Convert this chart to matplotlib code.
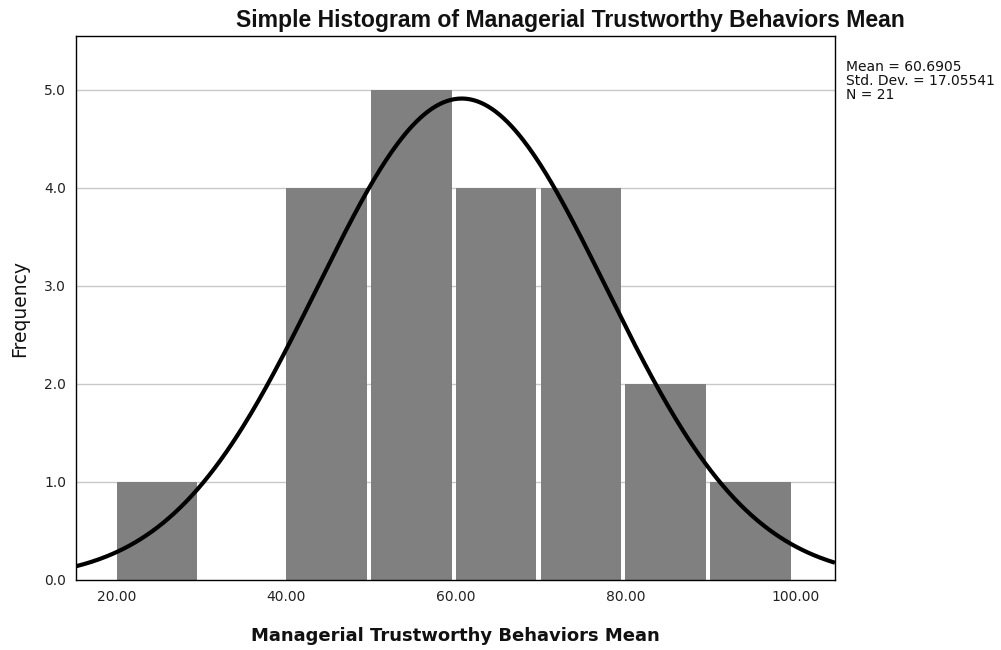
import numpy as np
import matplotlib
matplotlib.use("Agg")
import matplotlib.pyplot as plt

bin_edges = [20, 30, 40, 50, 60, 70, 80, 90, 100]
counts = [1, 0, 4, 5, 4, 4, 2, 1]
mean = 60.6905
std = 17.05541
n = 21
x_ticks = [20, 40, 60, 80, 100]
y_ticks = [0, 1, 2, 3, 4, 5]

fig = plt.figure(figsize=(10.01, 6.5), dpi=100)
ax = fig.add_axes([0.0759, 0.1077, 0.7582, 0.8369])

lefts = bin_edges[:-1]
widths = np.diff(bin_edges)
# bars leave a small white gap at their right side
ax.bar(lefts, counts, width=widths * 0.95, align='edge', color='#808080',
       edgecolor='none', linewidth=0, zorder=2)

ax.set_xlim(15.2, 104.7)
ax.set_ylim(0, 5.55)
for y in y_ticks[1:]:
    ax.axhline(y, color='#c8c8c8', linewidth=1.0, zorder=1)

xs = np.linspace(15.2, 104.7, 400)
binw = bin_edges[1] - bin_edges[0]
ys = n * binw / (std * np.sqrt(2 * np.pi)) * np.exp(-0.5 * ((xs - mean) / std) ** 2)
ax.plot(xs, ys, color='black', linewidth=3.0, zorder=3, solid_capstyle='butt')

ax.set_xticks(x_ticks)
ax.set_xticklabels([f"{v:.2f}" for v in x_ticks], fontsize=10, color='#222222')
ax.set_yticks(y_ticks)
ax.set_yticklabels([f"{v:.1f}" for v in y_ticks], fontsize=10, color='#222222')
ax.tick_params(length=0, pad=7)
for s in ax.spines.values():
    s.set_color('black')
    s.set_linewidth(1.0)

ax.set_xlabel("Managerial Trustworthy Behaviors Mean", fontsize=13,
              fontweight='bold', labelpad=17, color='#111111')
ax.set_ylabel("Frequency", fontsize=13.5, labelpad=11, color='#111111')

fig.text(0.57, 0.969, "Simple Histogram of Managerial Trustworthy Behaviors Mean",
         ha='center', va='center', fontsize=16.6, fontweight='bold',
         family='Liberation Sans', color='#111111')

fig.text(0.845, 0.907, f"Mean = {mean}\nStd. Dev. = {std}\nN = {n}",
         ha='left', va='top', fontsize=10, linespacing=1.0, color='#111111')

fig.savefig("out.png", dpi=100)
